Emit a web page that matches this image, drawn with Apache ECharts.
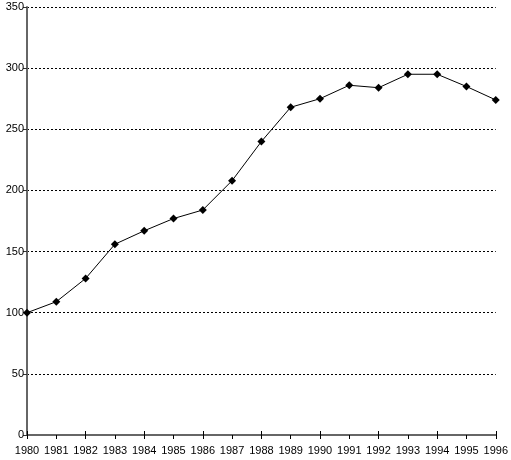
<!DOCTYPE html>
<html><head><meta charset="utf-8">
<script src="https://cdn.jsdelivr.net/npm/echarts@6/dist/echarts.min.js"></script>
<style>html,body{margin:0;padding:0;background:#fff}#c{width:511px;height:460px}</style>
</head><body><div id="c"></div>
<script>
var years = ['1980','1981','1982','1983','1984','1985','1986','1987','1988','1989','1990','1991','1992','1993','1994','1995','1996'];
var values = [100,109,128,156,167,177,184,208,240,268,275,286,284,295,295,285,274];
var chart = echarts.init(document.getElementById('c'));
var font = {fontFamily:'Liberation Sans, Arial, sans-serif', fontSize:11, color:'#000'};
chart.setOption({
  animation:false,
  backgroundColor:'#fff',
  grid:{left:27,right:15,top:7,bottom:25},
  xAxis:[{
    type:'category', data:years, boundaryGap:false,
    axisLine:{lineStyle:{color:'#666',width:2}},
    axisTick:{show:true,length:4,lineStyle:{color:'#000',width:1}},
    axisLabel:Object.assign({margin:10,interval:0},font),
    splitLine:{show:false}
  },{
    type:'category', data:years, boundaryGap:false, position:'bottom',
    axisLine:{show:false},
    axisTick:{show:true,inside:true,length:4,lineStyle:{color:'#000',width:1}},
    axisLabel:{show:false}, splitLine:{show:false}
  }],
  yAxis:{
    type:'value', min:0, max:350, interval:50,
    axisLine:{show:true,lineStyle:{color:'#666',width:2}},
    axisTick:{show:true,length:4,lineStyle:{color:'#333',width:1}},
    axisLabel:Object.assign({margin:3},font),
    splitLine:{show:true,lineStyle:{color:'#000',type:[2,2],width:1}}
  },
  series:[{
    type:'line', data:values, xAxisIndex:0,
    symbol:'diamond', symbolSize:8, showSymbol:true,
    lineStyle:{color:'#000',width:1},
    itemStyle:{color:'#000'},
    z:5
  }]
});
</script></body></html>
